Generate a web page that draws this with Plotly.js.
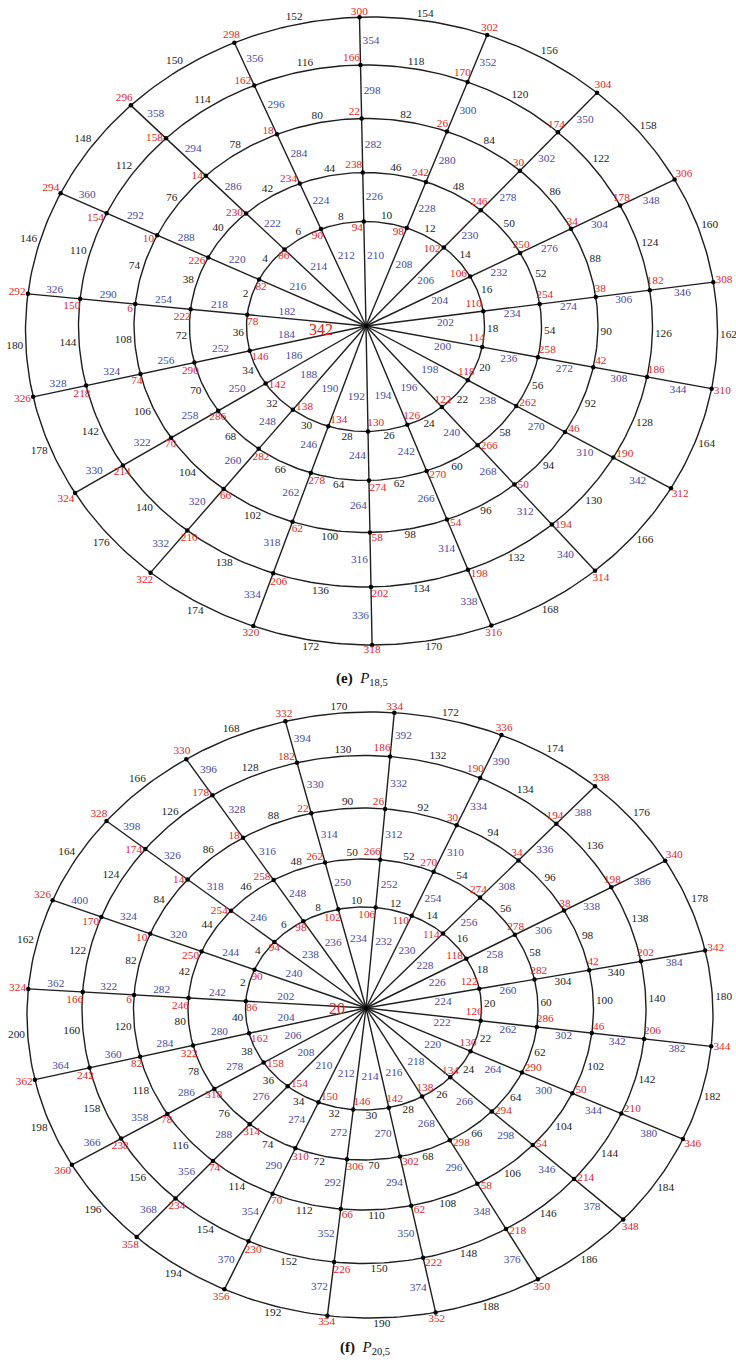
<!DOCTYPE html>
<html>
<head>
<meta charset="utf-8">
<script src="https://cdn.plot.ly/plotly-3.0.1.min.js"></script>
<style>
html,body{margin:0;padding:0;background:#ffffff;}
#chart{width:736px;height:1364px;}
</style>
</head>
<body>
<div id="chart"></div>
<script>
// ================= DATA =================
// Every list is indexed by spoke k = 0,1,2,... going clockwise from the (near) top spoke.
// Ring-edge lists: entry k is the arc between spoke k and spoke k+1.
// Spoke-edge lists: layer 1 = hub -> ring 1, layer 2 = ring 1 -> ring 2, ...

// ---- Panel (e)  P18,5 ----
const E_HUB = "342";
const E_VERTEX_R1 = [94,98,102,106,110,114,118,122,126,130,134,138,142,146,78,82,86,90];
const E_VERTEX_R2 = [238,242,246,250,254,258,262,266,270,274,278,282,286,290,222,226,230,234];
const E_VERTEX_R3 = [22,26,30,34,38,42,46,50,54,58,62,66,70,74,6,10,14,18];
const E_VERTEX_R4 = [166,170,174,178,182,186,190,194,198,202,206,210,214,218,150,154,158,162];
const E_VERTEX_R5 = [300,302,304,306,308,310,312,314,316,318,320,322,324,326,292,294,296,298];
const E_SPOKE_L1 = [210,208,206,204,202,200,198,196,194,192,190,188,186,184,182,216,214,212];
const E_SPOKE_L2 = [226,228,230,232,234,236,238,240,242,244,246,248,250,252,218,220,222,224];
const E_SPOKE_L3 = [282,280,278,276,274,272,270,268,266,264,262,260,258,256,254,288,286,284];
const E_SPOKE_L4 = [298,300,302,304,306,308,310,312,314,316,318,320,322,324,290,292,294,296];
const E_SPOKE_L5 = [354,352,350,348,346,344,342,340,338,336,334,332,330,328,326,360,358,356];
const E_ARC_R1 = [10,12,14,16,18,20,22,24,26,28,30,32,34,36,2,4,6,8];
const E_ARC_R2 = [46,48,50,52,54,56,58,60,62,64,66,68,70,72,38,40,42,44];
const E_ARC_R3 = [82,84,86,88,90,92,94,96,98,100,102,104,106,108,74,76,78,80];
const E_ARC_R4 = [118,120,122,124,126,128,130,132,134,136,138,140,142,144,110,112,114,116];
const E_ARC_R5 = [154,156,158,160,162,164,166,168,170,172,174,176,178,180,146,148,150,152];
const E_SPOKE_BLACK = [];

// ---- Panel (f)  P20,5 ----
const F_HUB = "20";
const F_VERTEX_R1 = [106,110,114,118,122,126,130,134,138,142,146,150,154,158,162,86,90,94,98,102];
const F_VERTEX_R2 = [266,270,274,278,282,286,290,294,298,302,306,310,314,318,322,246,250,254,258,262];
const F_VERTEX_R3 = [26,30,34,38,42,46,50,54,58,62,66,70,74,78,82,6,10,14,18,22];
const F_VERTEX_R4 = [186,190,194,198,202,206,210,214,218,222,226,230,234,238,242,166,170,174,178,182];
const F_VERTEX_R5 = [334,336,338,340,342,344,346,348,350,352,354,356,358,360,362,324,326,328,330,332];
const F_SPOKE_L1 = [232,230,228,226,224,222,220,218,216,214,212,210,208,206,204,202,240,238,236,234];
const F_SPOKE_L2 = [252,254,256,258,260,262,264,266,268,270,272,274,276,278,280,242,244,246,248,250];
const F_SPOKE_L3 = [312,310,308,306,304,302,300,298,296,294,292,290,288,286,284,282,320,318,316,314];
const F_SPOKE_L4 = [332,334,336,338,340,342,344,346,348,350,352,354,356,358,360,322,324,326,328,330];
const F_SPOKE_L5 = [392,390,388,386,384,382,380,378,376,374,372,370,368,366,364,362,400,398,396,394];
const F_ARC_R1 = [12,14,16,18,20,22,24,26,28,30,32,34,36,38,40,2,4,6,8,10];
const F_ARC_R2 = [52,54,56,58,60,62,64,66,68,70,72,74,76,78,80,42,44,46,48,50];
const F_ARC_R3 = [92,94,96,98,100,102,104,106,108,110,112,114,116,118,120,82,84,86,88,90];
const F_ARC_R4 = [132,134,136,138,140,142,144,146,148,150,152,154,156,158,160,122,124,126,128,130];
const F_ARC_R5 = [172,174,176,178,180,182,184,186,188,190,192,194,196,198,200,162,164,166,168,170];
const F_SPOKE_BLACK = [304,340];   // these two spoke labels are printed in black

// ================= STYLE / GEOMETRY =================
const FONT = '"Liberation Serif", "Times New Roman", Times, serif';
const RED = '#ec1c24', BLUE = '#4848a6', BLACK = '#1b1b1b', LINE = '#1e1e1e';
const FS = 11.3;
const HH = 3.2;

// spoke fan: parametric angle a0 - step*k, slightly bent (A*cos + B*sin) like the hand drawing
const GEO_E = {
  n: 18, a0: 91, step: 20, bendA: -2.8, bendB: 0, aspect: 0.87, hub: [366, 326],
  centers: [[365.5,326.5],[365.5,326.5],[366,325.5],[365.5,326],[371.5,331]],
  rx: [119,176,232,287,346], ry: [105,154,207,261,314],
  hubLabelGap: 31, hubLabelDy: 3, caption: [362, 679]
};
const GEO_F = {
  n: 20, a0: 84.5, step: 18, bendA: -1.7, bendB: 0.9, aspect: 0.87, hub: [366, 1008],
  centers: [[363.5,1008.5],[363,1009.5],[363.5,1009],[364,1009.5],[370,1015]],
  rx: [118,175,230,282,343], ry: [101.5,150.5,201,254,303],
  hubLabelGap: 19, hubLabelDy: 0, caption: [365, 1348]
};
const VERTEX_ROT = [135, 50, 50, 50, 0];
const VERTEX_GAP = [3, 3, 3, 3, 2];

function unit(v){ const L = Math.hypot(v[0], v[1]); return [v[0]/L, v[1]/L]; }
function rotCCW(v, deg){ const a = deg*Math.PI/180, c = Math.cos(a), s = Math.sin(a);
  return [v[0]*c + v[1]*s, -v[0]*s + v[1]*c]; }
function halfW(s){ return String(s).length * FS * 0.25; }

function buildPanel(data, geo){
  const n = geo.n, R = geo.rx.length, rad = Math.PI/180;
  const dirs = [];
  for (let k = 0; k < n; k++){
    const t0 = (geo.a0 - geo.step*k) * rad;
    const t = t0 + (geo.bendA*Math.cos(t0) + geo.bendB*Math.sin(t0)) * rad;
    dirs.push(unit([Math.cos(t), -geo.aspect*Math.sin(t)]));
  }
  const V = [];
  for (let r = 0; r < R; r++){
    const c = geo.centers[r], a = geo.rx[r], b = geo.ry[r];
    const px = geo.hub[0]-c[0], py = geo.hub[1]-c[1];
    V.push(dirs.map(d => {
      const A = d[0]*d[0]/(a*a) + d[1]*d[1]/(b*b);
      const B = 2*(px*d[0]/(a*a) + py*d[1]/(b*b));
      const C = px*px/(a*a) + py*py/(b*b) - 1;
      const s = (-B + Math.sqrt(B*B - 4*A*C)) / (2*A);
      return [geo.hub[0] + s*d[0], geo.hub[1] + s*d[1]];
    }));
  }
  const normalAt = (r, p) => { const c = geo.centers[r];
    return unit([(p[0]-c[0])/(geo.rx[r]*geo.rx[r]), (p[1]-c[1])/(geo.ry[r]*geo.ry[r])]); };
  const paramOf = (r, p) => { const c = geo.centers[r];
    return Math.atan2(-(p[1]-c[1])/geo.ry[r], (p[0]-c[0])/geo.rx[r]); };
  const pointAt = (r, t) => { const c = geo.centers[r];
    return [c[0] + geo.rx[r]*Math.cos(t), c[1] - geo.ry[r]*Math.sin(t)]; };

  // lines: rings + spokes
  const lx = [], ly = [];
  for (let r = 0; r < R; r++){
    for (let i = 0; i <= 360; i++){ const p = pointAt(r, i*rad); lx.push(p[0]); ly.push(p[1]); }
    lx.push(null); ly.push(null);
  }
  for (let k = 0; k < n; k++){
    lx.push(geo.hub[0], V[R-1][k][0], null); ly.push(geo.hub[1], V[R-1][k][1], null);
  }
  // vertex dots
  const vx = [geo.hub[0]], vy = [geo.hub[1]];
  V.forEach(row => row.forEach(p => { vx.push(p[0]); vy.push(p[1]); }));

  // labels
  const tx = [], ty = [], tt = [], tc = [];
  const put = (p, u, s, gap, col) => {
    const d = gap + Math.abs(u[0])*halfW(s) + Math.abs(u[1])*HH;
    tx.push(p[0] + u[0]*d); ty.push(p[1] + u[1]*d); tt.push(String(s)); tc.push(col);
  };
  for (let r = 0; r < R; r++){
    for (let k = 0; k < n; k++){
      // vertex label (red)
      const p = V[r][k];
      put(p, rotCCW(normalAt(r, p), VERTEX_ROT[r]), data.vertex[r][k], VERTEX_GAP[r], RED);
      // arc label (black), at the middle of the arc, just outside it
      const t1 = paramOf(r, V[r][k]), t2 = paramOf(r, V[r][(k+1)%n]);
      let dt = t2 - t1;
      while (dt > Math.PI) dt -= 2*Math.PI;
      while (dt <= -Math.PI) dt += 2*Math.PI;
      const m = pointAt(r, t1 + dt/2);
      put(m, normalAt(r, m), data.arc[r][k], 2.5, BLACK);
      // spoke label (blue), on the clockwise side of the spoke segment
      const P0 = r === 0 ? geo.hub : V[r-1][k], P1 = V[r][k];
      const f = r === 0 ? 0.67 : 0.5;
      const q = [P0[0] + f*(P1[0]-P0[0]), P0[1] + f*(P1[1]-P0[1])];
      const d = unit([P1[0]-P0[0], P1[1]-P0[1]]);
      const val = data.spoke[r][k];
      put(q, [-d[1], d[0]], val, 2.5, data.black.includes(val) ? BLACK : BLUE);
    }
  }

  const traces = [
    {type:'scatter', mode:'lines', x:lx, y:ly, line:{color:LINE, width:1.4},
     hoverinfo:'skip', showlegend:false},
    {type:'scatter', mode:'markers', x:vx, y:vy, marker:{color:'#000', size:4.5},
     hoverinfo:'skip', showlegend:false},
    {type:'scatter', mode:'text', x:tx, y:ty, text:tt, textposition:'middle center',
     textfont:{family:FONT, size:FS, color:tc}, cliponaxis:false, hoverinfo:'skip', showlegend:false}
  ];
  const annotations = [
    {x: geo.hub[0] - geo.hubLabelGap, y: geo.hub[1] + geo.hubLabelDy, xref:'x', yref:'y',
     text: data.hub, showarrow:false, xanchor:'right', yanchor:'middle',
     font:{family:FONT, size:16, color:RED}},
    {x: geo.caption[0], y: geo.caption[1], xref:'x', yref:'y', text: data.caption,
     showarrow:false, xanchor:'center', yanchor:'middle', font:{family:FONT, size:15, color:'#111'}}
  ];
  return {traces, annotations};
}

const panelE = buildPanel({
  hub: E_HUB,
  vertex: [E_VERTEX_R1, E_VERTEX_R2, E_VERTEX_R3, E_VERTEX_R4, E_VERTEX_R5],
  spoke: [E_SPOKE_L1, E_SPOKE_L2, E_SPOKE_L3, E_SPOKE_L4, E_SPOKE_L5],
  arc: [E_ARC_R1, E_ARC_R2, E_ARC_R3, E_ARC_R4, E_ARC_R5],
  black: E_SPOKE_BLACK,
  caption: '<b>(e)</b>\u00a0\u00a0<i>P</i><sub>18,5</sub>'
}, GEO_E);

const panelF = buildPanel({
  hub: F_HUB,
  vertex: [F_VERTEX_R1, F_VERTEX_R2, F_VERTEX_R3, F_VERTEX_R4, F_VERTEX_R5],
  spoke: [F_SPOKE_L1, F_SPOKE_L2, F_SPOKE_L3, F_SPOKE_L4, F_SPOKE_L5],
  arc: [F_ARC_R1, F_ARC_R2, F_ARC_R3, F_ARC_R4, F_ARC_R5],
  black: F_SPOKE_BLACK,
  caption: '<b>(f)</b>\u00a0\u00a0<i>P</i><sub>20,5</sub>'
}, GEO_F);

const layout = {
  width: 736, height: 1364, autosize: false,
  margin: {l:0, r:0, t:0, b:0, pad:0},
  paper_bgcolor: '#ffffff', plot_bgcolor: '#ffffff',
  xaxis: {range:[0,736], visible:false, showgrid:false, zeroline:false, fixedrange:true},
  yaxis: {range:[1364,0], visible:false, showgrid:false, zeroline:false, fixedrange:true},
  showlegend: false, hovermode: false,
  annotations: panelE.annotations.concat(panelF.annotations)
};

Plotly.newPlot('chart', panelE.traces.concat(panelF.traces), layout,
  {staticPlot:true, displayModeBar:false});
</script>
</body>
</html>
